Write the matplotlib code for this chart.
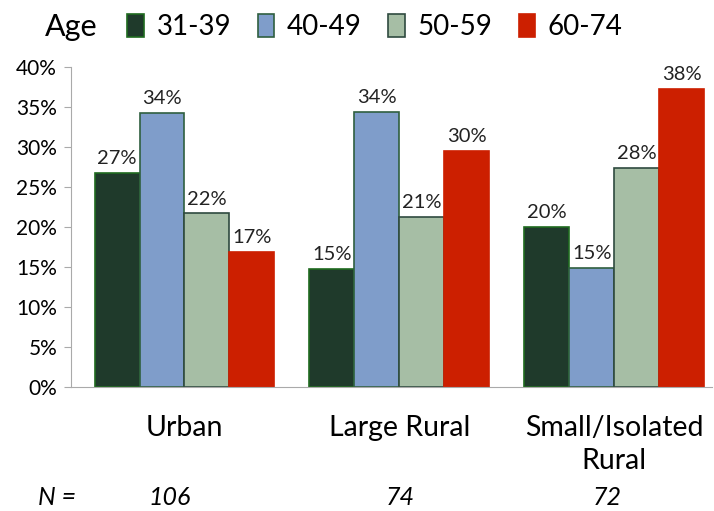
import numpy as np
import matplotlib.pyplot as plt

plt.rcParams['font.family'] = ['Lato', 'DejaVu Sans']

# Data
regions = ['Urban', 'Large Rural', 'Small/Isolated\nRural']
n_counts = ['106', '74', '72']
age_groups = ['31-39', '40-49', '50-59', '60-74']
age_31_39 = [26.8, 14.75, 20.0]
age_40_49 = [34.3, 34.4, 14.9]
age_50_59 = [21.7, 21.25, 27.4]
age_60_74 = [16.9, 29.5, 37.3]
series = [age_31_39, age_40_49, age_50_59, age_60_74]
labels = [['27%', '15%', '20%'],
          ['34%', '34%', '15%'],
          ['22%', '21%', '28%'],
          ['17%', '30%', '38%']]

colors = ['#1f3a2b', '#7f9dca', '#a6bea5', '#cc1f00']
edges = ['#1f6b1f', '#2f5f3f', '#2f4a3f', '#cc1f00']

fig = plt.figure(figsize=(7.14, 5.11), dpi=100)
ax = fig.add_axes([0.0994, 0.2427, 0.8976, 0.6262])

x = np.arange(len(regions))
w = 0.209
for i, vals in enumerate(series):
    pos = x + (i - 1.5) * w
    bars = ax.bar(pos, vals, width=w, color=colors[i], edgecolor=edges[i],
                  linewidth=1.2, label=age_groups[i])
    for j, b in enumerate(bars):
        ax.text(b.get_x() + b.get_width() / 2, b.get_height() + 0.7,
                labels[i][j], ha='center', va='bottom', fontsize=14.5,
                color='#222222')

ax.set_ylim(0, 40)
ax.set_xlim(-0.528, 2.455)
ax.set_yticks(range(0, 41, 5))
ax.set_yticklabels([f'{v}%' for v in range(0, 41, 5)], fontsize=15)
ax.set_xticks(x)
ax.set_xticklabels(regions, fontsize=20.5, linespacing=1.35)
ax.tick_params(axis='x', length=0, pad=20)
ax.tick_params(axis='y', length=5, color='#aaaaaa', pad=5)

for s in ['top', 'right']:
    ax.spines[s].set_visible(False)
for s in ['left', 'bottom']:
    ax.spines[s].set_color('#aaaaaa')

# Legend
fig.text(0.063, 0.948, 'Age', fontsize=22, va='center', ha='left')
fig.legend(loc='center left', bbox_to_anchor=(0.163, 0.948), ncol=4,
           frameon=False, fontsize=20, handlelength=0.6, handleheight=0.9,
           handletextpad=0.45, columnspacing=0.95, borderaxespad=0)

# N row
fig.text(0.053, 0.027, 'N =', fontsize=18, style='italic', va='center')
n_x = [0.238, 0.561, 0.850]
for xx, n in zip(n_x, n_counts):
    fig.text(xx, 0.027, n, fontsize=18, style='italic', va='center', ha='center')

plt.savefig('out.png', dpi=100)
